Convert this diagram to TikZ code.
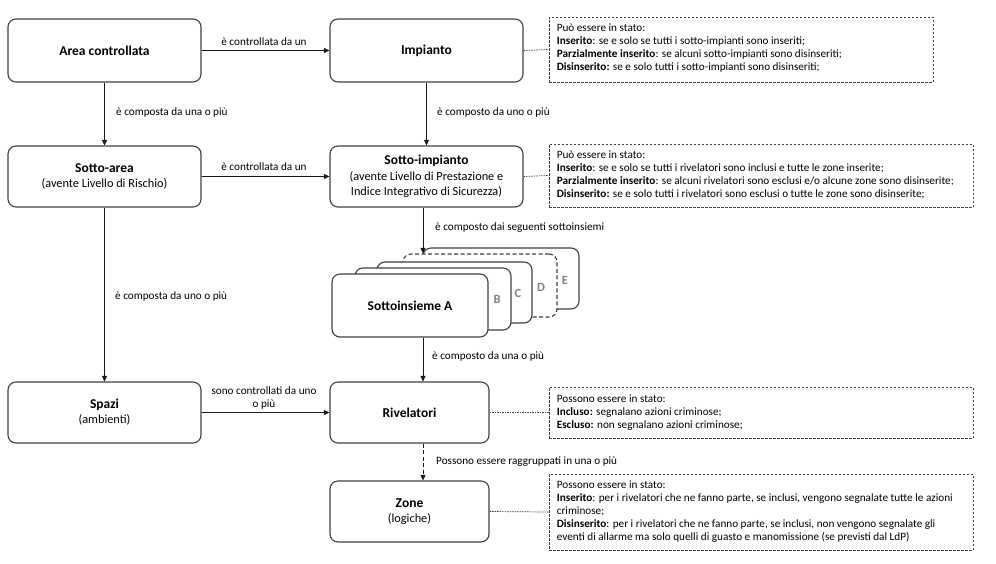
\documentclass[tikz,border=0pt]{standalone}
\usepackage{fontspec}
\setmainfont{Carlito}
\usetikzlibrary{arrows.meta}
\definecolor{boxgray}{HTML}{404040}
\definecolor{lettergray}{HTML}{808080}
\newcommand{\ttl}[1]{{\fontsize{13.5}{15}\selectfont\bfseries #1}}
\begin{document}
\begin{tikzpicture}[x=1pt,y=-1pt,
  box/.style={draw=boxgray, line width=1.1pt, rounded corners=8pt, fill=white, align=center, inner sep=0pt, font=\fontsize{12.3}{15.2}\selectfont},
  arr/.style={-{Triangle[length=5.5pt,width=5pt]}, line width=0.8pt, draw=black!90},
  lbl/.style={font=\fontsize{11.2}{13}\selectfont, inner sep=0pt},
  note/.style={draw=boxgray, dash pattern=on 2.5pt off 1.5pt, line width=0.8pt, inner sep=0pt},
  notetext/.style={anchor=west, align=left, inner sep=0pt, font=\fontsize{11.2}{13}\selectfont},
  link/.style={draw=boxgray, dash pattern=on 1.5pt off 1pt, line width=0.7pt},
  letter/.style={font=\fontsize{12.5}{13}\selectfont\bfseries, text=lettergray, inner sep=0pt}
]
\fill[white] (0,0) rectangle (996,563);
\useasboundingbox (0,0) rectangle (996,563);

% main boxes
\node[box, minimum width=193pt, minimum height=63pt] (ac) at (104.5,50.5) {\ttl{Area controllata}};
\node[box, minimum width=193pt, minimum height=63pt] (imp) at (426.5,50.5) {\ttl{Impianto}};
\node[box, minimum width=193pt, minimum height=61pt] (sa) at (104.5,176.5) {\ttl{Sotto-area}\\(avente Livello di Rischio)};
\node[box, minimum width=193pt, minimum height=61pt] (si) at (426.5,176.5) {\ttl{Sotto-impianto}\\(avente Livello di Prestazione e\\Indice Integrativo di Sicurezza)};
\node[box, minimum width=193pt, minimum height=61pt] (sp) at (104.5,412.5) {\ttl{Spazi}\\(ambienti)};
\node[box, minimum width=159pt, minimum height=61pt] (riv) at (409.5,412.5) {\ttl{Rivelatori}};
\node[box, minimum width=159pt, minimum height=61pt] (zone) at (409.5,511.5) {\ttl{Zone}\\(logiche)};

% stack of subsets
\node[box, minimum width=156pt, minimum height=61pt] (E) at (501,278.5) {};
\node[box, dash pattern=on 4pt off 2.5pt, minimum width=154pt, minimum height=63pt] (D) at (480,285.5) {};
\node[box, minimum width=155pt, minimum height=61pt] (C) at (454.5,292.5) {};
\node[box, minimum width=156pt, minimum height=62pt] (B) at (433,299) {};
\node[box, minimum width=156pt, minimum height=63pt] (A) at (410,305.5) {\ttl{Sottoinsieme A}};
\node[letter] (lB) at (497,299) {B};
\node[letter] (lC) at (518,293) {C};
\node[letter] (lD) at (541,287) {D};
\node[letter] (lE) at (565,280) {E};

% notes
\node[note, minimum width=384pt, minimum height=65pt] (n1) at (741,49.5) {};
\node[notetext] (t1) at ([xshift=8pt,yshift=1pt]n1.west) {Può essere in stato:\\
\textbf{Inserito}: se e solo se tutti i sotto-impianti sono inseriti;\\
\textbf{Parzialmente inserito}: se alcuni sotto-impianti sono disinseriti;\\
\textbf{Disinserito:} se e solo tutti i sotto-impianti sono disinseriti;};
\node[note, minimum width=424pt, minimum height=63pt] (n2) at (761,175.5) {};
\node[notetext] (t2) at ([xshift=8pt,yshift=1pt]n2.west) {Può essere in stato:\\
\textbf{Inserito}: se e solo se tutti i rivelatori sono inclusi e tutte le zone inserite;\\
\textbf{Parzialmente inserito}: se alcuni rivelatori sono esclusi e/o alcune zone sono disinserite;\\
\textbf{Disinserito:} se e solo tutti i rivelatori sono esclusi o tutte le zone sono disinserite;};
\node[note, minimum width=424pt, minimum height=51pt] (n3) at (761,412.5) {};
\node[notetext] (t3) at ([xshift=8pt]n3.west) {Possono essere in stato:\\
\textbf{Incluso:} segnalano azioni criminose;\\
\textbf{Escluso:} non segnalano azioni criminose;};
\node[note, minimum width=424pt, minimum height=76pt] (n4) at (761,512) {};
\node[notetext] (t4) at ([xshift=8pt]n4.west) {Possono essere in stato:\\
\textbf{Inserito}: per i rivelatori che ne fanno parte, se inclusi, vengono segnalate tutte le azioni\\
criminose;\\
\textbf{Disinserito}: per i rivelatori che ne fanno parte, se inclusi, non vengono segnalate gli\\
eventi di allarme ma solo quelli di guasto e manomissione (se previsti dal LdP)};

% helper x coordinate for the off-centre vertical connectors
\coordinate (ax) at (423,0);

% arrows
\draw[arr] (ac.east) -- (imp.west);
\draw[arr] (ac.south) -- (sa.north);
\draw[arr] (imp.south) -- (si.north);
\draw[arr] (sa.east) -- (si.west);
\draw[arr] (sa.south) -- (sp.north);
\draw[arr] (si.south -| ax) -- (D.north -| ax);
\draw[arr] (A.south -| ax) -- (riv.north -| ax);
\draw[arr] (sp.east) -- (riv.west);
\draw[arr, dash pattern=on 4pt off 2.5pt] (riv.south -| ax) -- (zone.north -| ax);

% dotted links to notes
\draw[link] (imp.east) -- (n1.west);
\draw[link] (si.east) -- (n2.west);
\draw[link] (riv.east) -- (n3.west);
\draw[link] (zone.east) -- (n4.west);

% connector labels
\node[lbl] (l1) at (264,42) {è controllata da un};
\node[lbl] (l2) at (264,167) {è controllata da un};
\node[lbl, anchor=west] (l3) at (116,113) {è composta da una o più};
\node[lbl, anchor=west] (l4) at (437,113) {è composto da uno o più};
\node[lbl, anchor=west] (l5) at (115,297) {è composta da uno o più};
\node[lbl, anchor=west] (l6) at (435,228) {è composto dai seguenti sottoinsiemi};
\node[lbl, align=center] (l7) at (264,398) {sono controllati da uno\\o più};
\node[lbl, anchor=west] (l8) at (432,357) {è composto da una o più};
\node[lbl, anchor=west] (l9) at (436,462) {Possono essere raggruppati in una o più};
\end{tikzpicture}
\end{document}
